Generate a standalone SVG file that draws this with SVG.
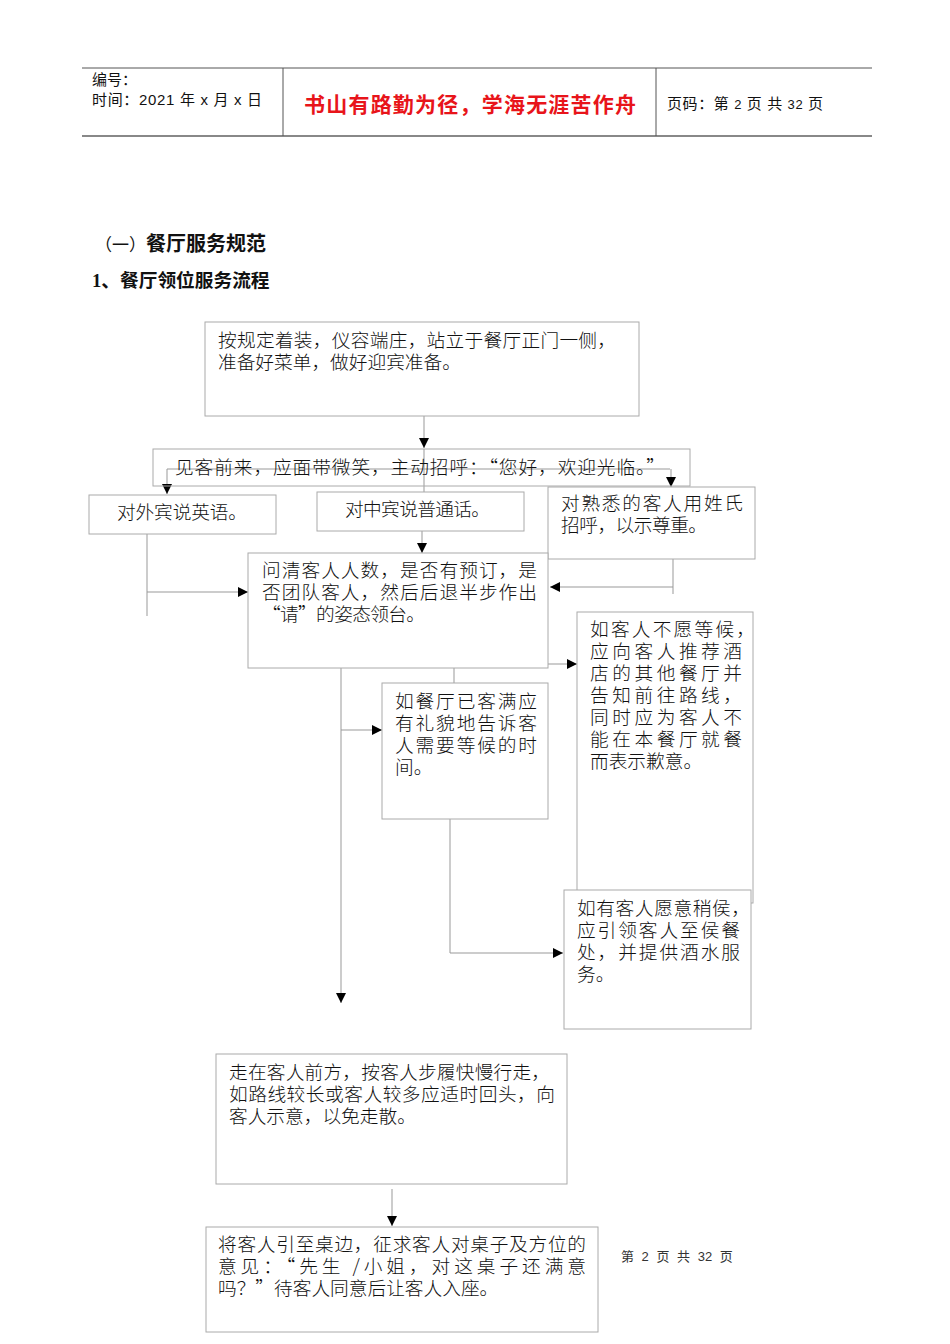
<svg xmlns="http://www.w3.org/2000/svg" width="950" height="1344" viewBox="0 0 950 1344">
<style>
.hdr{font-family:"Liberation Sans","Noto Sans CJK SC",sans-serif;font-size:15px;fill:#111}
.red{font-family:"Noto Sans CJK SC",sans-serif;font-size:21px;font-weight:bold;fill:#e8141a}
.h1{font-family:"Noto Sans CJK SC",sans-serif;font-size:20px;font-weight:bold;fill:#111}
.h2{font-family:"Liberation Serif","Noto Sans CJK SC",serif;font-size:18.7px;font-weight:bold;fill:#111}
.t{font-family:"Noto Sans CJK SC",sans-serif;font-size:18.7px;font-weight:300;fill:#111}
.box{fill:#fff;stroke:#aaaaaa;stroke-width:1}
.c{fill:none;stroke:#999999;stroke-width:1}
.ft{font-family:"Liberation Sans","Noto Sans CJK SC",sans-serif;font-size:13px;fill:#333}
</style>
<defs>
<marker id="ah" viewBox="0 0 10 10" refX="10" refY="5" markerWidth="10" markerHeight="10" markerUnits="userSpaceOnUse" orient="auto">
<path d="M0,0 L10,5 L0,10 z" fill="#000"/>
</marker>
</defs>
<rect width="950" height="1344" fill="#fff"/>
<g id="header">
<line x1="82" y1="68" x2="872" y2="68" stroke="#555" stroke-width="1"/>
<line x1="82" y1="136" x2="872" y2="136" stroke="#888" stroke-width="2"/>
<line x1="283" y1="68" x2="283" y2="136" stroke="#555" stroke-width="1"/>
<line x1="656" y1="68" x2="656" y2="136" stroke="#555" stroke-width="1"/>
<text class="hdr" x="92" y="85">编号：</text>
<text class="hdr" x="92" y="105" textLength="170">时间：2021 年 x 月 x 日</text>
<text class="red" x="304" y="112" textLength="332">书山有路勤为径，学海无涯苦作舟</text>
<text class="hdr" x="667" y="109" textLength="156">页码：第 <tspan font-size="13">2</tspan> 页  共 <tspan font-size="13">32</tspan> 页</text>
</g>
<g id="titles">
<text class="h1" x="95" y="251"><tspan font-weight="normal" font-size="17">（一）</tspan>餐厅服务规范</text>
<text class="h2" x="92" y="287">1、餐厅领位服务流程</text>
</g>
<g id="connectors">
<path class="c" d="M424,411 V448" marker-end="url(#ah)"/>
<path class="c" d="M424,449 V505" marker-end="url(#ah)"/>
<path class="c" d="M167,469 H670"/>
<path class="c" d="M167,469 V494" marker-end="url(#ah)"/>
<path class="c" d="M671,469 V487" marker-end="url(#ah)"/>
<path class="c" d="M422,524 V553" marker-end="url(#ah)"/>
<path class="c" d="M147,523 V616"/>
<path class="c" d="M147,592 H248" marker-end="url(#ah)"/>
<path class="c" d="M673,545 V594"/>
<path class="c" d="M673,587 H550" marker-end="url(#ah)"/>
<path class="c" d="M454,684 V664 H577" marker-end="url(#ah)"/>
<path class="c" d="M341,646 V1003" marker-end="url(#ah)"/>
<path class="c" d="M341,730 H382" marker-end="url(#ah)"/>
<path class="c" d="M450,819 V953 H563" marker-end="url(#ah)"/>
<path class="c" d="M392,1189 V1226" marker-end="url(#ah)"/>
</g>
<g id="n1">
<rect class="box" x="205" y="322" width="434" height="94"/>
<text class="t" x="218" y="347" textLength="398">按规定着装，仪容端庄，站立于餐厅正门一侧，</text>
<text class="t" x="218" y="369">准备好菜单，做好迎宾准备。</text>
</g>
<g id="n2">
<rect class="box" x="153" y="449" width="537" height="37" fill-opacity="0"/>
<text class="t" x="175" y="474" textLength="490">见客前来，应面带微笑，主动招呼：“您好，欢迎光临。”</text>
</g>
<g id="n3">
<rect class="box" x="89" y="495" width="187" height="39" fill="none"/>
<text class="t" x="117" y="519" textLength="130">对外宾说英语。</text>
</g>
<g id="n4">
<rect class="box" x="317" y="492" width="207" height="39" fill="none"/>
<text class="t" x="345" y="516" textLength="145">对中宾说普通话。</text>
</g>
<g id="n5">
<rect class="box" x="548" y="487" width="207" height="72" fill="none"/>
<text class="t" x="561" y="510" textLength="182">对熟悉的客人用姓氏</text>
<text class="t" x="561" y="532" textLength="146">招呼，以示尊重。</text>
</g>
<g id="n6">
<rect class="box" x="248" y="553" width="300" height="115" fill="none"/>
<text class="t" x="262" y="577" textLength="275">问清客人人数，是否有预订，是</text>
<text class="t" x="262" y="599" textLength="275">否团队客人，然后后退半步作出</text>
<text class="t" x="262" y="621" textLength="163">“请”的姿态领台。</text>
</g>
<g id="n7">
<rect class="box" x="577" y="612" width="176" height="291" fill="none"/>
<text class="t" x="590" y="636" textLength="165">如客人不愿等候，</text>
<text class="t" x="590" y="658" textLength="152">应向客人推荐酒</text>
<text class="t" x="590" y="680" textLength="152">店的其他餐厅并</text>
<text class="t" x="590" y="702" textLength="152">告知前往路线，</text>
<text class="t" x="590" y="724" textLength="152">同时应为客人不</text>
<text class="t" x="590" y="746" textLength="152">能在本餐厅就餐</text>
<text class="t" x="590" y="768">而表示歉意。</text>
</g>
<g id="n8">
<rect class="box" x="382" y="683" width="166" height="136" fill="none"/>
<text class="t" x="395" y="708" textLength="142">如餐厅已客满应</text>
<text class="t" x="395" y="730" textLength="142">有礼貌地告诉客</text>
<text class="t" x="395" y="752" textLength="142">人需要等候的时</text>
<text class="t" x="395" y="774">间。</text>
</g>
<g id="n9">
<rect class="box" x="564" y="890" width="187" height="139"/>
<text class="t" x="577" y="915" textLength="173">如有客人愿意稍侯，</text>
<text class="t" x="577" y="937" textLength="163">应引领客人至侯餐</text>
<text class="t" x="577" y="959" textLength="163">处，并提供酒水服</text>
<text class="t" x="577" y="981">务。</text>
</g>
<g id="n10">
<rect class="box" x="216" y="1054" width="351" height="130"/>
<text class="t" x="229" y="1079" textLength="321">走在客人前方，按客人步履快慢行走，</text>
<text class="t" x="229" y="1101" textLength="326">如路线较长或客人较多应适时回头，向</text>
<text class="t" x="229" y="1123">客人示意，以免走散。</text>
</g>
<g id="n11">
<rect class="box" x="206" y="1227" width="392" height="105"/>
<text class="t" x="218" y="1251" textLength="368">将客人引至桌边，征求客人对桌子及方位的</text>
<text class="t" x="218" y="1273" textLength="368">意见：“先生 /小姐，对这桌子还满意</text>
<text class="t" x="218" y="1295">吗？”待客人同意后让客人入座。</text>
</g>
<g id="footer">
<text class="ft" x="621" y="1261" word-spacing="4">第 2 页 共 32 页</text>
</g>
</svg>
